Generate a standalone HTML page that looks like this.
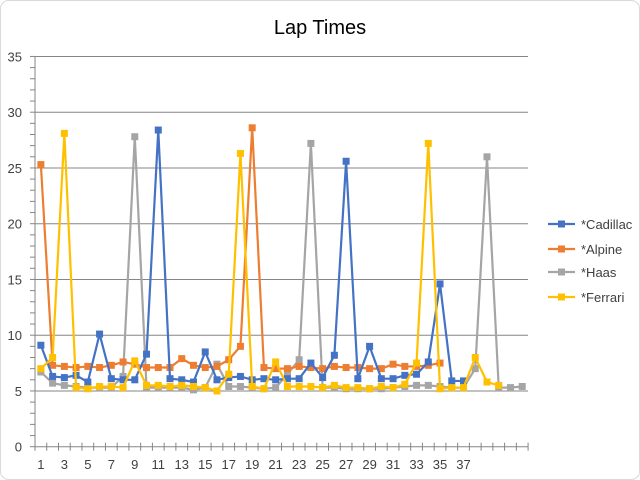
<!DOCTYPE html>
<html><head><meta charset="utf-8"><style>
html,body{margin:0;padding:0;background:#fff}
svg{display:block;font-family:"Liberation Sans",sans-serif}
</style></head><body>
<svg id="c" width="640" height="480" xmlns="http://www.w3.org/2000/svg"></svg>
<script>
const S={
Cad:[9.1,6.3,6.2,6.4,5.8,10.1,6.1,6.0,6.0,8.3,28.4,6.1,6.0,5.8,8.5,6.0,6.2,6.3,6.0,6.1,6.0,6.1,6.1,7.5,6.2,8.2,25.6,6.1,9.0,6.1,6.1,6.4,6.5,7.6,14.6,5.9,5.9],
Alp:[25.3,7.3,7.2,7.1,7.2,7.1,7.3,7.6,7.4,7.1,7.1,7.1,7.9,7.3,7.1,7.2,7.8,9.0,28.6,7.1,7.0,7.0,7.2,7.1,7.0,7.2,7.1,7.1,7.0,7.0,7.4,7.2,7.2,7.3,7.5],
Haas:[6.7,5.7,5.5,5.4,5.3,5.3,5.3,6.3,27.8,5.3,5.3,5.3,5.3,5.1,5.3,7.4,5.4,5.4,5.3,5.2,5.3,6.5,7.8,27.2,5.3,5.3,5.2,5.2,5.2,5.2,5.3,5.4,5.5,5.5,5.4,5.3,5.3,7.0,26.0,5.3,5.3,5.4],
Fer:[7.0,8.0,28.1,5.3,5.2,5.4,5.4,5.3,7.7,5.5,5.5,5.4,5.5,5.4,5.3,5.0,6.5,26.3,5.4,5.2,7.6,5.4,5.4,5.4,5.3,5.5,5.3,5.3,5.2,5.4,5.3,5.6,7.5,27.2,5.2,5.3,5.3,8.0,5.8,5.5]};
const col={Cad:"#4472c4",Alp:"#ed7d31",Haas:"#a5a5a5",Fer:"#ffc000"};
const X=i=>35+11.74*(i+0.5), Y=v=>446.7-11.15*v;
let h='<rect x="0.5" y="0.5" width="639" height="479" rx="8" fill="#fff" stroke="#d9d9d9"/>';
h+='<text x="320" y="34" font-size="20" text-anchor="middle" fill="#000">Lap Times</text>';
for(let v=5;v<=35;v+=5)h+=`<line x1="35" x2="528" y1="${Y(v)}" y2="${Y(v)}" stroke="#868686" stroke-width="1"/>`;
h+=`<line x1="35" x2="35" y1="${Y(35)}" y2="${Y(0)}" stroke="#868686"/><line x1="35" x2="528" y1="${Y(0)}" y2="${Y(0)}" stroke="#868686"/>`;
for(let v=0;v<=35;v++)h+=`<line x1="30" x2="35" y1="${Y(v)}" y2="${Y(v)}" stroke="#868686"/>`;
for(let v=0;v<=35;v+=5)h+=`<text x="22" y="${Y(v)+5}" font-size="13" text-anchor="end" fill="#404040">${v}</text>`;
for(let i=0;i<=42;i++){let x=35+11.74*i;h+=`<line x1="${x}" x2="${x}" y1="${Y(0)-4}" y2="${Y(0)+4}" stroke="#868686"/>`;}
for(let i=1;i<=37;i+=2)h+=`<text x="${X(i-1)}" y="469" font-size="13" text-anchor="middle" fill="#404040">${i}</text>`;
for(const k of ["Haas","Alp","Cad","Fer"]){
 const d=S[k];h+=`<polyline fill="none" stroke="${col[k]}" stroke-width="2.2" points="${d.map((v,i)=>X(i)+','+Y(v)).join(' ')}"/>`;
 d.forEach((v,i)=>h+=`<rect x="${X(i)-3.5}" y="${Y(v)-3.5}" width="7" height="7" fill="${col[k]}"/>`);
}
const L=[["Cad","*Cadillac",224],["Alp","*Alpine",249],["Haas","*Haas",272],["Fer","*Ferrari",297]];
for(const [k,t,y] of L){h+=`<line x1="548" x2="575" y1="${y}" y2="${y}" stroke="${col[k]}" stroke-width="2.2"/><rect x="558" y="${y-3.5}" width="7" height="7" fill="${col[k]}"/><text x="581" y="${y+5}" font-size="13" fill="#404040">${t}</text>`;}
document.getElementById('c').innerHTML=h;
</script>
</body></html>
